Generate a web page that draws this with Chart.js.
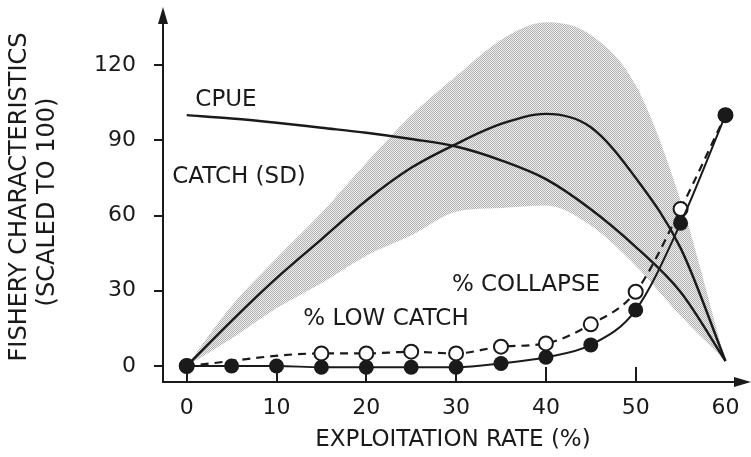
<!DOCTYPE html>
<html><head><meta charset="utf-8">
<script src="https://cdn.jsdelivr.net/npm/chart.js@4/dist/chart.umd.min.js"></script>
<style>html,body{margin:0;padding:0;background:#fff}#wrap{width:751px;height:457px}</style>
</head><body><div id="wrap"><canvas id="c" width="751" height="457"></canvas></div>
<script>
// ---- data ----
const exploitation = [0,5,10,15,20,25,30,35,40,45,50,55,60];
const cpue        = [100,98.7,97,95,93,90.5,87.5,82,74.5,62.5,47.5,29.5,2];
const catchMean   = [0,18,35,50.5,66,79,88.5,96.5,100.5,95.2,75,47,2];
const catchUpper  = [0,24,43,61,81,100,115.5,130,137,132,112,66,2];
const catchLower  = [0,11,23,33,44,52,61.5,63,64,56,40,20,2];
const pctOpen     = [0,null,null,5,5,5.7,5,7.7,9,16.6,29.6,62.6,100];
const pctFilled   = [0,0,0,-0.5,-0.5,-0.5,-0.5,1,3.5,8.4,22.3,56.9,100];
const xTicks = [0,10,20,30,40,50,60];
const yTicks = [0,30,60,90,120];
const xTitle = 'EXPLOITATION RATE (%)';
const yTitle = ['FISHERY CHARACTERISTICS','(SCALED TO 100)'];
const labels = [
  {text:'CPUE', px:226, py:100},
  {text:'CATCH (SD)', px:239, py:177},
  {text:'% LOW CATCH', px:386, py:319},
  {text:'% COLLAPSE', px:526, py:285}
];

const pts = arr => exploitation.map((x,i)=>({x, y: arr[i]}));
const INK = '#1a1a1a';
const FONT = 'DejaVu Sans';

function stipple(){
  const p = document.createElement('canvas'); p.width = 2; p.height = 2;
  const g = p.getContext('2d');
  g.fillStyle = '#eeeeee'; g.fillRect(0,0,2,2);
  g.fillStyle = '#b2b2b2'; g.fillRect(0,0,1,1); g.fillRect(1,1,1,1);
  return g.createPattern(p,'repeat');
}

const decor = {
  id:'decor',
  afterDraw(chart){
    const {ctx, chartArea:a, scales:{x,y}} = chart;
    ctx.save();
    ctx.strokeStyle = INK; ctx.fillStyle = INK; ctx.lineWidth = 2;
    // y axis + arrow
    ctx.beginPath(); ctx.moveTo(a.left, a.bottom+1); ctx.lineTo(a.left, a.top+10); ctx.stroke();
    ctx.beginPath(); ctx.moveTo(a.left, a.top-3); ctx.lineTo(a.left-5, a.top+14); ctx.lineTo(a.left+5, a.top+14); ctx.closePath(); ctx.fill();
    // x axis + arrow
    ctx.beginPath(); ctx.moveTo(a.left-1, a.bottom); ctx.lineTo(a.right-10, a.bottom); ctx.stroke();
    ctx.beginPath(); ctx.moveTo(a.right+1, a.bottom); ctx.lineTo(a.right-16, a.bottom-5); ctx.lineTo(a.right-16, a.bottom+5); ctx.closePath(); ctx.fill();
    // y ticks (outward)
    yTicks.forEach(v=>{ const p = Math.round(y.getPixelForValue(v)); ctx.beginPath(); ctx.moveTo(a.left-9, p); ctx.lineTo(a.left, p); ctx.stroke(); });
    // x ticks (inward)
    xTicks.filter(v=>v<60).forEach(v=>{ const p = Math.round(x.getPixelForValue(v)); ctx.beginPath(); ctx.moveTo(p, a.bottom); ctx.lineTo(p, a.bottom-15); ctx.stroke(); });
    // titles
    ctx.textAlign = 'center'; ctx.textBaseline = 'middle';
    ctx.font = '23px "' + FONT + '"';
    ctx.fillText(xTitle, 453, 440);
    ctx.save();
    ctx.font = '24px "' + FONT + '"';
    ctx.translate(20, 197); ctx.rotate(-Math.PI/2); ctx.fillText(yTitle[0], 0, 0); ctx.restore();
    ctx.save();
    ctx.font = '24px "' + FONT + '"';
    ctx.translate(48, 202); ctx.rotate(-Math.PI/2); ctx.fillText(yTitle[1], 0, 0); ctx.restore();
    // annotations
    ctx.font = '23px "' + FONT + '"';
    labels.forEach(l=>ctx.fillText(l.text, l.px, l.py));
    ctx.restore();
  }
};

new Chart(document.getElementById('c'), {
  type:'line',
  data:{ datasets:[
    {label:'filled', data:pts(pctFilled), borderColor:INK, borderWidth:2, cubicInterpolationMode:'monotone',
     pointRadius:7.5, pointBackgroundColor:INK, pointBorderColor:INK, pointBorderWidth:0, fill:false},
    {label:'open', data:pts(pctOpen), spanGaps:true, borderColor:INK, borderWidth:2.2, borderDash:[8,6], cubicInterpolationMode:'monotone',
     pointRadius:7, pointBackgroundColor:'#fff', pointBorderColor:INK, pointBorderWidth:2, fill:false},
    {label:'catch', data:pts(catchMean), borderColor:INK, borderWidth:2.4, cubicInterpolationMode:'monotone', pointRadius:0, fill:false},
    {label:'cpue', data:pts(cpue), borderColor:INK, borderWidth:2.4, cubicInterpolationMode:'monotone', pointRadius:0, fill:false},
    {label:'upper', data:pts(catchUpper), borderWidth:0, borderColor:'rgba(0,0,0,0)', cubicInterpolationMode:'monotone', pointRadius:0, fill:'+1', backgroundColor:stipple()},
    {label:'lower', data:pts(catchLower), borderWidth:0, borderColor:'rgba(0,0,0,0)', cubicInterpolationMode:'monotone', pointRadius:0, fill:false}
  ]},
  options:{
    responsive:false, animation:false, devicePixelRatio:1,
    layout:{autoPadding:false, padding:{top:10,right:1,left:0,bottom:0}},
    plugins:{legend:{display:false}, tooltip:{enabled:false}},
    scales:{
      x:{type:'linear', min:-2.64, max:62.73,
         grid:{display:false, drawTicks:false}, border:{display:false},
         afterBuildTicks:s=>{ s.ticks = xTicks.map(v=>({value:v})); },
         afterFit:s=>{ s.height = 75; s.paddingLeft = 0; s.paddingRight = 0; s.paddingTop = 0; s.paddingBottom = 0; },
         ticks:{font:{family:FONT,size:22}, color:INK, padding:13, maxRotation:0, autoSkip:false}},
      y:{type:'linear', min:-6.38, max:141.93,
         grid:{display:false, drawTicks:false}, border:{display:false},
         afterBuildTicks:s=>{ s.ticks = yTicks.map(v=>({value:v})); },
         afterFit:s=>{ s.width = 163; s.paddingLeft = 0; s.paddingRight = 0; s.paddingTop = 0; s.paddingBottom = 0; },
         ticks:{font:{family:FONT,size:22}, color:INK, padding:27}}
    }
  },
  plugins:[decor]
});
</script></body></html>
